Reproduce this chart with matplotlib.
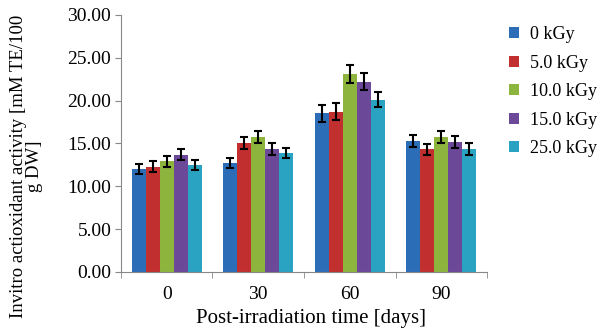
import numpy as np
import matplotlib.pyplot as plt

days = ['0', '30', '60', '90']
doses = ['0 kGy', '5.0 kGy', '10.0 kGy', '15.0 kGy', '25.0 kGy']
colors = ['#2C6DB8', '#C1302F', '#8DB43C', '#6C4898', '#2AA2C2']

# values per dose, one per day
v0 = [12.0, 12.7, 18.5, 15.3]
v5 = [12.3, 15.1, 18.7, 14.3]
v10 = [12.9, 15.7, 23.1, 15.8]
v15 = [13.7, 14.3, 22.2, 15.2]
v25 = [12.5, 13.9, 20.1, 14.4]
e0 = [0.6, 0.6, 1.0, 0.7]
e5 = [0.6, 0.7, 1.0, 0.6]
e10 = [0.6, 0.7, 1.1, 0.7]
e15 = [0.6, 0.7, 1.0, 0.7]
e25 = [0.6, 0.6, 0.9, 0.7]

vals = [v0, v5, v10, v15, v25]
errs = [e0, e5, e10, e15, e25]

plt.rcParams['font.family'] = 'Liberation Serif'
fig = plt.figure(figsize=(6.08, 3.32), dpi=100)
ax = fig.add_axes([0.199, 0.181, 0.602, 0.774])

x = np.arange(len(days))
w = 0.153
for i in range(5):
    ax.bar(x + (i - 2) * w, vals[i], w, color=colors[i], label=doses[i],
           yerr=errs[i], capsize=3, error_kw=dict(elinewidth=1.5, capthick=1.5, ecolor='black'))

ax.set_ylim(0, 30)
ax.set_xlim(-0.5, 3.5)
ax.set_yticks(np.arange(0, 31, 5))
ax.set_yticklabels(['%.2f' % t for t in np.arange(0, 31, 5)], fontsize=14)
ax.set_xticks(x)
ax.set_xticklabels(days, fontsize=14)
ax.set_xticks(np.arange(-0.5, 4, 1), minor=True)
ax.tick_params(axis='x', which='major', length=0, pad=10)
ax.tick_params(axis='x', which='minor', length=4, color='#888888')
ax.tick_params(axis='y', length=4, color='#888888', pad=3)
for s in ['top', 'right']:
    ax.spines[s].set_visible(False)
for s in ['left', 'bottom']:
    ax.spines[s].set_color('#888888')

ax.set_xlabel('Post-irradiation time [days]', fontsize=15, va='center')
ax.xaxis.set_label_coords(0.52, -0.18)
# y label as plain rotated text so both lines stay centred
fig.text(0.044, 0.5, 'Invitro actioxidant activity [mM TE/100\ng DW]', fontsize=13.5,
         rotation=90, ha='center', va='center', multialignment='center',
         linespacing=0.95)

leg = ax.legend(loc='upper left', bbox_to_anchor=(1.015, 1.02), frameon=False,
                fontsize=13, handlelength=0.55, handleheight=0.55,
                labelspacing=0.64, handletextpad=0.6)

fig.savefig('out.png', dpi=100)
